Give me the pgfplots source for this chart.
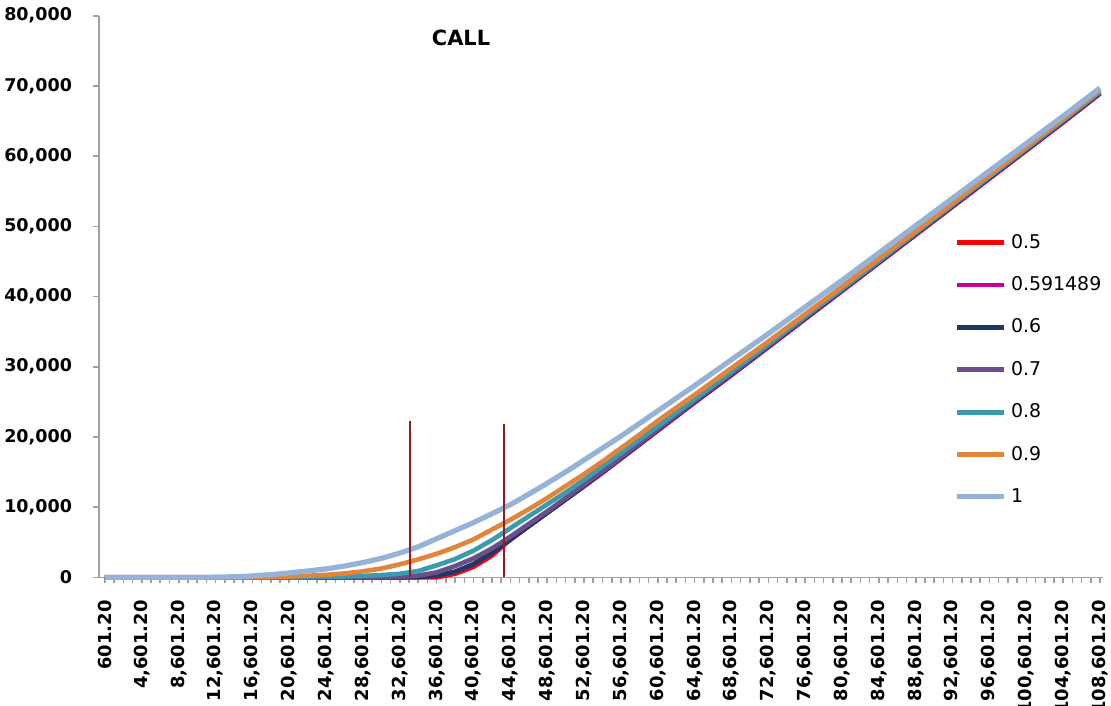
\documentclass[border=0pt]{standalone}
\usepackage{fontspec}
\setmainfont{DejaVu Sans}
\usepackage{pgfplots}
\usepackage{pgfplotstable}
\pgfplotsset{compat=1.18}
\definecolor{cRed}{HTML}{FF0000}
\definecolor{cMag}{HTML}{CC0099}
\definecolor{cNavy}{HTML}{1F3864}
\definecolor{cPurp}{HTML}{6A4F8C}
\definecolor{cTeal}{HTML}{3A9BAF}
\definecolor{cOrng}{HTML}{E2853A}
\definecolor{cLblu}{HTML}{95B3D7}
\definecolor{cVline}{HTML}{941E1E}
\definecolor{cAxis}{HTML}{A0A0A0}
\pgfplotstableread{
S r m n p t o b
601.2 0 0 0 0 0 0 0
4601.2 0 0 0 0 0 0 0
8601.2 0 0 0 0 0 0 0
12601.2 0 0 0 0 0 0 30
14601.2 0 0 0 0 0 0 80
16601.2 0 0 0 0 0 10 200
18601.2 0 0 0 0 0 50 380
20601.2 0 0 0 0 0 120 620
22601.2 0 0 0 0 30 220 900
24601.2 0 0 0 0 70 350 1200
26601.2 0 0 0 0 120 550 1600
28601.2 0 0 0 0 200 850 2100
30601.2 0 0 0 20 320 1250 2700
32601.2 0 0 0 80 500 1850 3450
34601.2 0 40 50 250 900 2550 4350
36601.2 0 230 250 700 1700 3350 5500
38601.2 500 760 800 1600 2600 4300 6650
40601.2 1500 1850 1900 2700 3800 5400 7800
42601.2 3100 3450 3500 4100 5300 6800 9050
44601.2 5400 5350 5400 5800 7000 8200 10350
46601.2 7300 7300 7300 7600 8700 9700 11850
48601.2 9200 9200 9200 9400 10400 11300 13400
50601.2 11100 11100 11100 11300 12100 13000 15000
52601.2 13000 13000 13000 13200 13900 14700 16700
54601.2 14900 14950 15000 15100 15800 16500 18400
56601.2 16900 16950 17000 17100 17700 18400 20100
58601.2 18900 18950 19000 19100 19600 20300 21900
60601.2 20900 20950 21000 21100 21500 22300 23700
64601.2 24900 24950 25000 25100 25400 26000 27300
68601.2 28800 28850 28900 29000 29300 29800 31000
72601.2 32800 32850 32900 33000 33200 33600 34700
76601.2 36800 36850 36900 37000 37200 37500 38500
80601.2 40800 40850 40900 41000 41100 41400 42300
84601.2 44800 44850 44900 45000 45100 45400 46200
88601.2 48800 48850 48900 49000 49100 49300 50100
92601.2 52800 52850 52900 53000 53100 53300 54000
96601.2 56800 56850 56900 57000 57100 57300 57900
100601.2 60800 60850 60900 61000 61100 61300 61800
104601.2 64800 64850 64900 65000 65100 65300 65700
108601.2 68900 68950 69000 69100 69200 69400 69700
}\calldata
\begin{document}
\begin{tikzpicture}
\useasboundingbox (-49.5bp,-64.35bp) rectangle (506bp,288.65bp);
\begin{axis}[
  scale only axis,
  width=502bp, height=280.8bp,
  xmin=-50, xmax=108927,
  ymin=0, ymax=80000,
  clip=false,
  axis x line*=bottom, axis y line*=left,
  axis line style={cAxis, line width=0.8bp, -},
  tick align=outside,
  major tick length=3bp, minor tick length=3bp,
  every tick/.style={cAxis, line width=0.8bp},
  ytick={0,10000,...,80000},
  scaled y ticks=false,
  yticklabel style={font=\fontsize{8.8}{10}\selectfont\bfseries, /pgf/number format/1000 sep={,}, /pgf/number format/assume math mode=true, xshift=-7bp},
  xtick={601.2,4601.2,8601.2,12601.2,16601.2,20601.2,24601.2,28601.2,32601.2,36601.2,40601.2,44601.2,48601.2,52601.2,56601.2,60601.2,64601.2,68601.2,72601.2,76601.2,80601.2,84601.2,88601.2,92601.2,96601.2,100601.2,104601.2,108601.2},
  xticklabels={601.20,{4,601.20},{8,601.20},{12,601.20},{16,601.20},{20,601.20},{24,601.20},{28,601.20},{32,601.20},{36,601.20},{40,601.20},{44,601.20},{48,601.20},{52,601.20},{56,601.20},{60,601.20},{64,601.20},{68,601.20},{72,601.20},{76,601.20},{80,601.20},{84,601.20},{88,601.20},{92,601.20},{96,601.20},{100,601.20},{104,601.20},{108,601.20}},
  minor xtick={1601.2,2601.2,...,107601.2},
  xticklabel shift=5bp,
  xticklabel style={font=\fontsize{9}{10}\selectfont\bfseries, rotate=90, anchor=east},
  legend style={draw=none, fill=none, at={(rel axis cs:0.852,0.619)}, anchor=north west,
    font=\fontsize{9.5}{11}\selectfont, row sep=8.7bp, inner sep=0pt},
  legend cell align=left,
  legend image code/.code={\draw[#1] (0bp,0bp) -- (23.5bp,0bp);},
  every axis plot/.append style={line width=2.3bp, line join=round},
]
\addplot[cRed] table[x=S,y=r]{\calldata};
\addlegendentry{0.5}
\addplot[cMag] table[x=S,y=m]{\calldata};
\addlegendentry{0.591489}
\addplot[cNavy] table[x=S,y=n]{\calldata};
\addlegendentry{0.6}
\addplot[cPurp] table[x=S,y=p]{\calldata};
\addlegendentry{0.7}
\addplot[cTeal] table[x=S,y=t]{\calldata};
\addlegendentry{0.8}
\addplot[cOrng] table[x=S,y=o]{\calldata};
\addlegendentry{0.9}
\addplot[cLblu, line width=2.6bp] table[x=S,y=b]{\calldata};
\addlegendentry{1}
\addplot[cVline, line width=1bp, forget plot] coordinates {(33700,0) (33700,22200)};
\addplot[cVline, line width=1bp, forget plot] coordinates {(43900,0) (43900,21900)};
\node[font=\fontsize{10.5}{12}\selectfont\bfseries] at (rel axis cs:0.3606,0.96) {CALL};
\end{axis}
\end{tikzpicture}
\end{document}
